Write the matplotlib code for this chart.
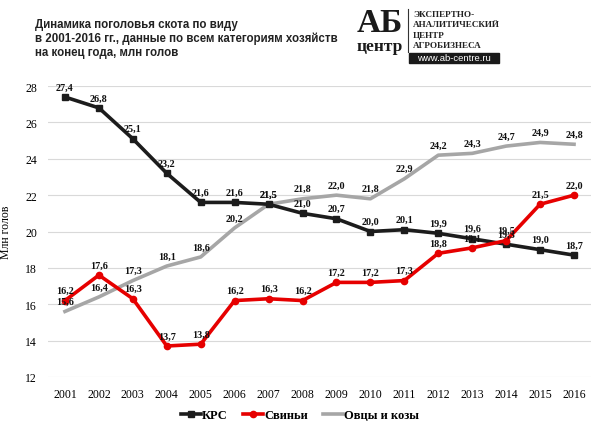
import numpy as np
import matplotlib
matplotlib.use("Agg")
import matplotlib.pyplot as plt
from matplotlib.patches import Rectangle

# data (млн голов, на конец года)
years = [str(y) for y in range(2001, 2017)]
krs = [27.4, 26.8, 25.1, 23.2, 21.6, 21.6, 21.5, 21.0, 20.7, 20.0, 20.1, 19.9, 19.6, 19.3, 19.0, 18.7]
pigs = [16.2, 17.6, 16.3, 13.7, 13.8, 16.2, 16.3, 16.2, 17.2, 17.2, 17.3, 18.8, 19.1, 19.5, 21.5, 22.0]
sheep = [15.6, 16.4, 17.3, 18.1, 18.6, 20.2, 21.5, 21.8, 22.0, 21.8, 22.9, 24.2, 24.3, 24.7, 24.9, 24.8]
yticks = [12, 14, 16, 18, 20, 22, 24, 26, 28]

serif = "Liberation Serif"
sans = "Liberation Sans"

fig = plt.figure(figsize=(6, 4.27), dpi=100)
ax = fig.add_axes([0.08, 0.115, 0.905, 0.681])

x = np.arange(len(years))
ax.plot(x, sheep, color="#a6a6a6", lw=2.6, label="Овцы и козы", zorder=2)
ax.plot(x, krs, color="#1c1c1c", lw=2.6, marker="s", ms=5, label="КРС", zorder=3)
ax.plot(x, pigs, color="#e60000", lw=2.6, marker="o", ms=4.5, label="Свиньи", zorder=4)

def fmt(v):
    return ("%.1f" % v).replace(".", ",")

for series in (krs, pigs, sheep):
    for i, v in enumerate(series):
        ax.annotate(fmt(v), (i, v), xytext=(0, 4), textcoords="offset points",
                    ha="center", va="bottom", fontsize=7.3, fontweight="bold",
                    family=serif, color="#111111", zorder=5)

ax.set_xlim(-0.5, len(years) - 0.5)
ax.set_ylim(12, 28)
ax.set_yticks(yticks)
ax.set_xticks(x)
ax.set_xticklabels(years)
ax.grid(axis="y", color="#d9d9d9", lw=0.8)
ax.set_axisbelow(True)
for s in ax.spines.values():
    s.set_visible(False)
ax.tick_params(length=0, labelsize=8.5, pad=8)
for lab in ax.get_xticklabels() + ax.get_yticklabels():
    lab.set_family(serif)
ax.tick_params(axis="y", pad=8)
ax.set_ylabel("Млн голов", family=serif, fontsize=8.5)
ax.yaxis.set_label_coords(-0.066, 0.5)

# legend with the three series in order КРС, Свиньи, Овцы и козы
h, l = ax.get_legend_handles_labels()
order = [1, 2, 0]
leg = fig.legend([h[i] for i in order], [l[i] for i in order], loc="center",
                 bbox_to_anchor=(0.5, 0.026), ncol=3, frameon=False,
                 handlelength=1.6, handletextpad=0.1, columnspacing=1.2,
                 prop={"family": serif, "weight": "bold", "size": 9})

# title
title_lines = ["Динамика поголовья скота по виду",
               "в 2001-2016 гг., данные по всем категориям хозяйств",
               "на конец года, млн голов"]
for k, t in enumerate(title_lines):
    fig.text(35 / 600, 1 - (25 + 14 * k) / 427, t, family=sans, fontweight="bold",
             fontsize=8.3, color="#222222", va="center", ha="left")

# logo
fig.text(380 / 600, 1 - 23 / 427, "АБ", family=serif, fontweight="bold",
         fontsize=24, ha="center", va="center", color="#1a1a1a")
fig.text(380 / 600, 1 - 47 / 427, "центр", family=serif, fontweight="bold",
         fontsize=12.5, ha="center", va="center", color="#1a1a1a")
fig.add_artist(plt.Line2D([408 / 600, 408 / 600], [1 - 10 / 427, 1 - 53 / 427],
                          color="#333333", lw=0.8))
for k, t in enumerate(["ЭКСПЕРТНО-", "АНАЛИТИЧЕСКИЙ", "ЦЕНТР", "АГРОБИЗНЕСА"]):
    fig.text(413 / 600, 1 - (15 + 10.3 * k) / 427, t, family=serif, fontweight="bold",
             fontsize=6.6, ha="left", va="center", color="#222222")
fig.add_artist(Rectangle((409 / 600, 1 - 64 / 427), 90 / 600, 10 / 427,
                         transform=fig.transFigure, color="#1a1a1a"))
fig.text(454 / 600, 1 - 59 / 427, "www.ab-centre.ru", family=sans,
         fontsize=6.8, ha="center", va="center", color="white")

fig.savefig("out.png", dpi=100)
